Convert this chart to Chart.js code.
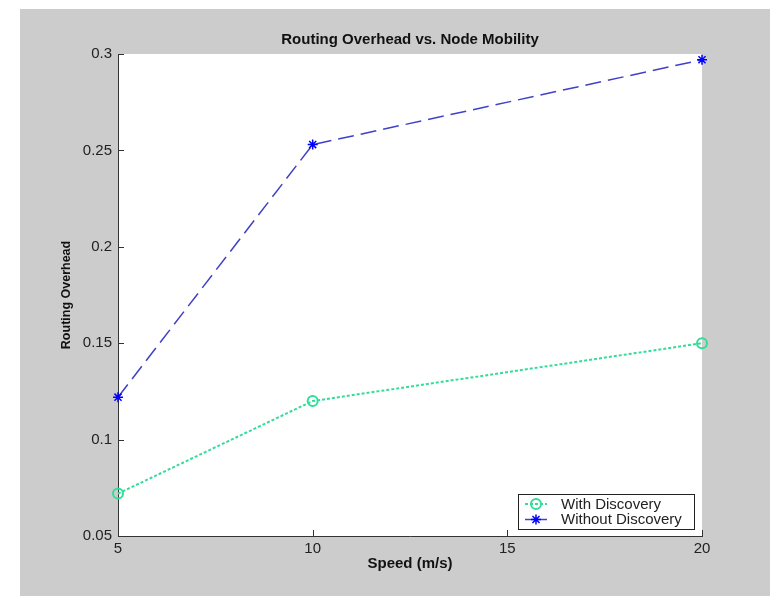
<!DOCTYPE html>
<html>
<head>
<meta charset="utf-8">
<script src="https://cdn.jsdelivr.net/npm/chart.js@4/dist/chart.umd.min.js"></script>
<style>
  body { margin: 0; background: #ffffff; }
  #chart { display: block; }
</style>
</head>
<body>
<canvas id="chart" width="770" height="596"></canvas>
<script>
const speeds = [5, 10, 20];
const withDiscovery = [0.072, 0.12, 0.15];
const withoutDiscovery = [0.122, 0.253, 0.297];
const xTicks = [5, 10, 15, 20];
const yTicks = [0.05, 0.1, 0.15, 0.2, 0.25, 0.3];

const GRAY = "#cccccc";
const AXIS = "#333333";
const FONT = "'Liberation Sans', Arial, sans-serif";

const toPoints = (ys) => ys.map((y, i) => ({ x: speeds[i], y: y }));

// grey figure background + white axes box
const background = {
  id: "background",
  beforeDraw(chart) {
    const { ctx, chartArea } = chart;
    ctx.save();
    ctx.fillStyle = "#ffffff";
    ctx.fillRect(0, 0, chart.width, chart.height);
    ctx.fillStyle = GRAY;
    ctx.fillRect(20, 9, chart.width - 20, chart.height - 9);
    ctx.fillStyle = "#ffffff";
    ctx.fillRect(chartArea.left, chartArea.top,
      chartArea.right - chartArea.left, chartArea.bottom - chartArea.top);
    ctx.restore();
  },
};

// matlab style ticks pointing into the plot
const innerTicks = {
  id: "innerTicks",
  afterDraw(chart) {
    const { ctx, chartArea, scales } = chart;
    ctx.save();
    ctx.strokeStyle = AXIS;
    ctx.lineWidth = 1;
    ctx.beginPath();
    xTicks.forEach((v) => {
      const x = Math.round(scales.x.getPixelForValue(v)) + 0.5;
      ctx.moveTo(x, chartArea.bottom);
      ctx.lineTo(x, chartArea.bottom - 6);
    });
    yTicks.forEach((v) => {
      const y = Math.round(scales.y.getPixelForValue(v)) + 0.5;
      ctx.moveTo(chartArea.left, y);
      ctx.lineTo(chartArea.left + 6, y);
    });
    ctx.stroke();
    ctx.restore();
  },
};

function drawMarker(ctx, ds, x, y) {
  ctx.save();
  ctx.setLineDash([]);
  ctx.strokeStyle = ds.pointBorderColor;
  ctx.lineWidth = ds.pointBorderWidth;
  const r = ds.pointRadius;
  ctx.beginPath();
  if (ds.pointStyle === "circle") {
    ctx.arc(x, y, r, 0, Math.PI * 2);
  } else {
    const d = r * Math.SQRT1_2;
    ctx.moveTo(x - r, y); ctx.lineTo(x + r, y);
    ctx.moveTo(x, y - r); ctx.lineTo(x, y + r);
    ctx.moveTo(x - d, y - d); ctx.lineTo(x + d, y + d);
    ctx.moveTo(x - d, y + d); ctx.lineTo(x + d, y - d);
  }
  ctx.stroke();
  ctx.restore();
}

// legend box in the lower right corner of the axes
const boxLegend = {
  id: "boxLegend",
  afterDraw(chart) {
    const { ctx } = chart;
    const box = { x: 518, y: 494, w: 176, h: 35 };
    ctx.save();
    ctx.fillStyle = "#ffffff";
    ctx.fillRect(box.x, box.y, box.w, box.h);
    ctx.strokeStyle = "#222222";
    ctx.lineWidth = 1;
    ctx.strokeRect(box.x + 0.5, box.y + 0.5, box.w, box.h);
    ctx.font = "15px " + FONT;
    ctx.textBaseline = "middle";
    ctx.fillStyle = "#222222";
    chart.data.datasets.forEach((ds, i) => {
      const y = box.y + 10 + i * 15.5;
      ctx.save();
      ctx.strokeStyle = ds.borderColor;
      ctx.lineWidth = ds.borderWidth;
      ctx.setLineDash(i === 0 ? [3, 2] : []);
      ctx.beginPath();
      ctx.moveTo(525, y);
      ctx.lineTo(547, y);
      ctx.stroke();
      ctx.restore();
      drawMarker(ctx, ds, 536, y);
      ctx.fillText(ds.label, 561, y + 0.5);
    });
    ctx.restore();
  },
};

new Chart(document.getElementById("chart"), {
  type: "line",
  data: {
    datasets: [
      {
        label: "With Discovery",
        data: toPoints(withDiscovery),
        borderColor: "#33dd99",
        borderWidth: 2,
        borderDash: [3, 2],
        pointStyle: "circle",
        pointRadius: 5,
        pointBorderWidth: 2,
        pointBorderColor: "#33dd99",
        pointBackgroundColor: "rgba(0,0,0,0)",
        tension: 0,
        clip: false,
      },
      {
        label: "Without Discovery",
        data: toPoints(withoutDiscovery),
        borderColor: "#4040c8",
        borderWidth: 1.5,
        borderDash: [16, 7],
        pointStyle: "star",
        pointRadius: 5,
        pointBorderWidth: 1.5,
        pointBorderColor: "#0000ff",
        pointBackgroundColor: "#0000ff",
        tension: 0,
        clip: false,
      },
    ],
  },
  options: {
    responsive: false,
    animation: false,
    layout: { padding: { left: 0, right: 68, top: 0, bottom: 0 } },
    scales: {
      x: {
        type: "linear",
        min: 5,
        max: 20,
        afterFit: (scale) => { scale.height = 60; },
        afterBuildTicks: (scale) => { scale.ticks = xTicks.map((v) => ({ value: v })); },
        grid: { drawOnChartArea: false, drawTicks: false },
        border: { display: true, color: AXIS, width: 1 },
        ticks: {
          padding: 4,
          color: "#222222",
          font: { family: FONT, size: 15 },
          maxRotation: 0,
          callback: (v) => String(v),
        },
        title: {
          display: true,
          text: "Speed (m/s)",
          color: "#111111",
          font: { family: FONT, size: 15, weight: "bold" },
          padding: { top: 0, bottom: 23 },
        },
      },
      y: {
        min: 0.05,
        max: 0.3,
        afterFit: (scale) => { scale.width = 118; },
        afterBuildTicks: (scale) => { scale.ticks = yTicks.map((v) => ({ value: v })); },
        grid: { drawOnChartArea: false, drawTicks: false },
        border: { display: true, color: AXIS, width: 1 },
        ticks: {
          padding: 6,
          color: "#222222",
          font: { family: FONT, size: 15 },
          callback: (v) => String(Number(v.toFixed(2))),
        },
        title: {
          display: true,
          text: "Routing Overhead",
          color: "#111111",
          font: { family: FONT, size: 12.5, weight: "bold" },
          padding: { top: 59, bottom: 0 },
        },
      },
    },
    plugins: {
      legend: { display: false },
      tooltip: { enabled: false },
      title: {
        display: true,
        fullSize: false,
        text: "Routing Overhead vs. Node Mobility",
        color: "#111111",
        font: { family: FONT, size: 15, weight: "bold" },
        padding: { top: 31, bottom: 5 },
      },
    },
  },
  plugins: [background, innerTicks, boxLegend],
});
</script>
</body>
</html>
